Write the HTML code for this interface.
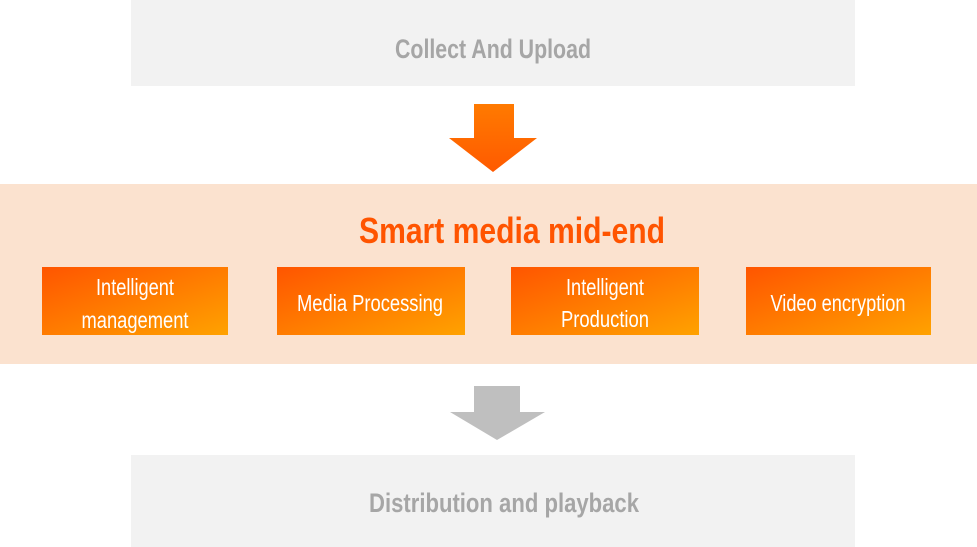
<!DOCTYPE html>
<html><head><meta charset="utf-8"><style>
html,body{margin:0;padding:0;background:#fff;}
svg{display:block;}
text{font-family:"Liberation Sans Narrow","Liberation Sans",sans-serif;}
</style></head><body>
<svg width="977" height="547" viewBox="0 0 977 547" xmlns="http://www.w3.org/2000/svg">
<defs>
<linearGradient id="g" x1="0" y1="0" x2="1" y2="1">
<stop offset="0" stop-color="#ff5500"/><stop offset="1" stop-color="#ffa200"/>
</linearGradient>
<linearGradient id="ga" x1="0" y1="0" x2="0" y2="1">
<stop offset="0" stop-color="#ff7a00"/><stop offset="1" stop-color="#ff5a00"/>
</linearGradient>
</defs>
<rect x="131" y="0" width="724" height="86" fill="#f2f2f2"/>
<text x="493" y="58" text-anchor="middle" font-size="27" font-weight="bold" fill="#a6a6a6" textLength="196" lengthAdjust="spacingAndGlyphs">Collect And Upload</text>
<polygon points="474,104 514,104 514,138 537,138 493,172 449,138 474,138" fill="url(#ga)"/>
<rect x="0" y="184" width="977" height="180" fill="#fbe2cf"/>
<text x="512" y="243" text-anchor="middle" font-size="36" font-weight="bold" fill="#ff5400" textLength="306" lengthAdjust="spacingAndGlyphs">Smart media mid-end</text>
<rect x="42" y="267" width="186" height="68" fill="url(#g)"/>
<rect x="277" y="267" width="188" height="68" fill="url(#g)"/>
<rect x="511" y="267" width="188" height="68" fill="url(#g)"/>
<rect x="746" y="267" width="185" height="68" fill="url(#g)"/>
<g fill="#fff" font-size="23" text-anchor="middle">
<text x="135" y="295" textLength="78" lengthAdjust="spacingAndGlyphs">Intelligent</text>
<text x="135" y="328" textLength="107" lengthAdjust="spacingAndGlyphs">management</text>
<text x="370" y="311" textLength="146" lengthAdjust="spacingAndGlyphs">Media Processing</text>
<text x="605" y="295" textLength="78" lengthAdjust="spacingAndGlyphs">Intelligent</text>
<text x="605" y="327" textLength="88" lengthAdjust="spacingAndGlyphs">Production</text>
<text x="838" y="311" textLength="135" lengthAdjust="spacingAndGlyphs">Video encryption</text>
</g>
<polygon points="474,386 520,386 520,412 545,412 497,440 450,412 474,412" fill="#bfbfbf"/>
<rect x="131" y="455" width="724" height="92" fill="#f2f2f2"/>
<text x="504" y="512" text-anchor="middle" font-size="27" font-weight="bold" fill="#a6a6a6" textLength="270" lengthAdjust="spacingAndGlyphs">Distribution and playback</text>
</svg>
</body></html>
